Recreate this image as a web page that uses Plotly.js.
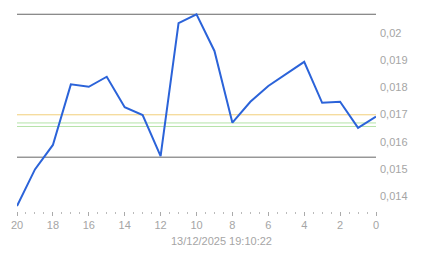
<!DOCTYPE html>
<html><head><meta charset="utf-8">
<script src="https://cdn.plot.ly/plotly-3.0.1.min.js"></script>
<style>html,body{margin:0;padding:0;background:#fff;}#chart{width:443px;height:258px;}</style>
</head><body><div id="chart"></div>
<script>
const xValues = [20,19,18,17,16,15,14,13,12,11,10,9,8,7,6,5,4,3,2,1,0];
const yValues = [0.01363,0.01498,0.01588,0.01811,0.01802,0.01839,0.01727,0.01698,0.01547,0.02036,0.02069,0.01934,0.01670,0.01747,0.01805,0.01849,0.01894,0.01743,0.01747,0.01651,0.01692];
const darkLevels = [0.02069, 0.01543];
const orangeLevels = [0.01699];
const greenLevels = [0.01669, 0.01656];
const xTitle = "13/12/2025 19:10:22";

function hline(v, color){
  return {type:'line', xref:'paper', x0:0, x1:1, yref:'y', y0:v, y1:v, line:{color:color, width:1}, layer:'below'};
}
const shapes = [].concat(
  darkLevels.map(v=>hline(v,'#666666')),
  orangeLevels.map(v=>hline(v,'#f2cf7a')),
  greenLevels.map(v=>hline(v,'#b5e3a8'))
);

const trace = {x:xValues, y:yValues, type:'scatter', mode:'lines', line:{color:'#2b63d9', width:2}, hoverinfo:'none'};

const layout = {
  width:443, height:258,
  margin:{l:17, r:67, t:6, b:47},
  paper_bgcolor:'#fff', plot_bgcolor:'#fff',
  separators:',.',
  showlegend:false,
  font:{family:'Liberation Sans, Arial, sans-serif', size:11, color:'#a5a5a5'},
  xaxis:{range:[20,0], dtick:2, tick0:0, showgrid:false, zeroline:false, showline:false,
    ticks:'outside', ticklen:4, tickcolor:'#aaaaaa', tickwidth:1,
    minor:{dtick:0.5, ticks:'outside', ticklen:2, tickcolor:'#bbbbbb', showgrid:false},
    tickfont:{size:11, color:'#a5a5a5'}},
  yaxis:{range:[0.013449,0.020994], side:'right', dtick:0.001, tick0:0, showgrid:false, zeroline:false, showline:false,
    ticks:'', ticklabelstandoff:3, tickfont:{size:11, color:'#a5a5a5'}},
  annotations:[{text:xTitle, xref:'paper', yref:'paper', x:0.5696, y:-0.146, xanchor:'center', yanchor:'middle', showarrow:false, font:{size:11, color:'#a5a5a5'}}],
  shapes:shapes
};
Plotly.newPlot('chart',[trace],layout,{staticPlot:true, displayModeBar:false});
</script></body></html>
